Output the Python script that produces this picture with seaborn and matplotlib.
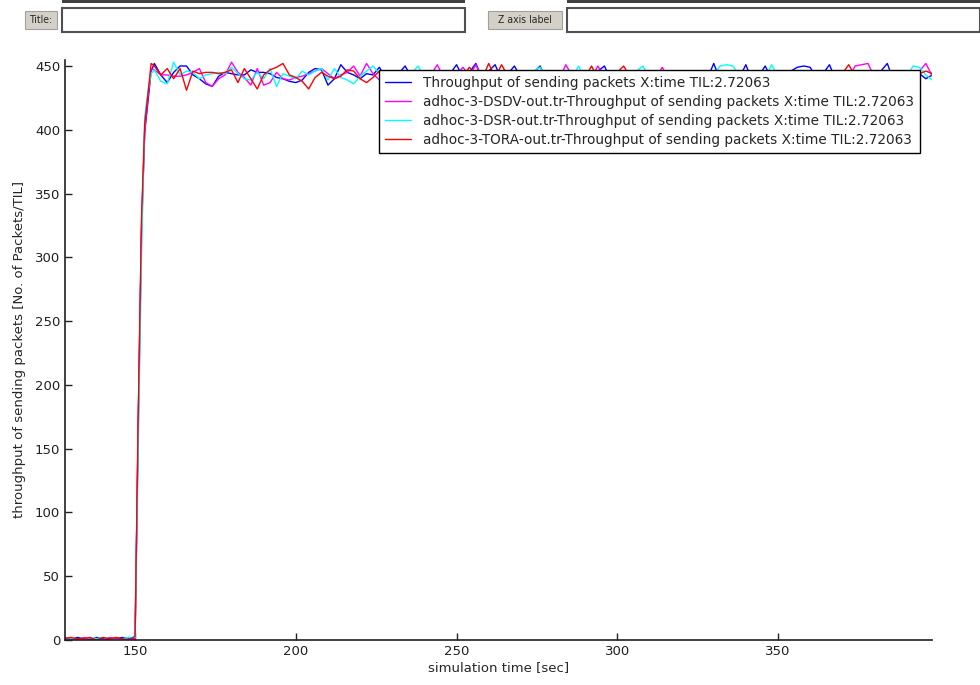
import matplotlib
matplotlib.use("Agg")
import matplotlib.pyplot as plt
from matplotlib.patches import Rectangle
import numpy as np
import pandas as pd
import seaborn as sns

# time axis: 2 s steps, 1 s steps around the start-up ramp
time = [*range(128, 150, 2), 150, 151, 152, 153, 154, 155, *range(156, 399, 2)]

blue = [1, 0, 2, 1, 0, 2, 1, 0, 1, 2, 1,
        1, 170, 320, 398, 422, 446,
        452, 443, 437, 445, 450, 450, 443, 440, 436, 434, 442, 445, 444, 443, 443, 447, 445,
        445, 444, 441, 440, 438, 437, 439, 445, 448, 447, 435, 440, 451, 445, 443, 440, 444,
        443, 449, 440, 437, 444, 450, 441, 436, 442, 445,
        438, 442, 444, 451, 441, 445, 452, 440, 446, 451,
        439, 444, 450, 441, 437, 445, 450, 438, 442, 444,
        436, 441, 445, 440, 443, 446, 450, 439, 437, 443,
        445, 440, 436, 442, 446, 441, 438, 444, 442, 437,
        441, 445, 440, 452, 439, 443, 446, 441, 451, 438,
        442, 450, 440, 436, 443, 446, 449, 450, 449, 440,
        444, 451, 439, 442, 445, 437, 441, 444, 440, 446,
        452, 438, 443, 441, 437, 444, 440, 443]

magenta = [2, 1, 0, 2, 1, 1, 0, 2, 1, 0, 2,
           0, 175, 325, 400, 425, 448,
           447, 443, 443, 442, 442, 443, 445, 448, 437, 434, 440, 443, 453, 445, 441, 435, 448,
           435, 437, 445, 440, 439, 441, 442, 444, 446, 448, 444, 440, 443, 445, 450, 442, 452,
           444, 439, 443, 446, 440, 437, 442, 445, 440, 443,
           451, 441, 437, 443, 449, 442, 451, 440, 436, 443,
           446, 440, 437, 443, 446, 441, 438, 444, 446, 440,
           451, 442, 438, 444, 441, 450, 440, 436, 442, 445,
           440, 437, 443, 446, 441, 449, 439, 436, 442, 446,
           441, 437, 444, 446, 440, 437, 443, 446, 441, 438,
           444, 446, 440, 436, 442, 445, 441, 438, 443, 446,
           440, 437, 443, 446, 441, 450, 451, 452, 441, 438,
           444, 446, 440, 437, 443, 446, 452, 442]

cyan = [0, 1, 1, 0, 2, 1, 2, 1, 0, 1, 2,
        2, 150, 300, 410, 430, 444,
        447, 438, 436, 453, 443, 446, 445, 440, 443, 444, 445, 444, 449, 444, 440, 439, 445,
        440, 448, 434, 444, 442, 440, 446, 443, 446, 448, 439, 448, 441, 439, 436, 442, 446,
        450, 444, 438, 443, 446, 440, 444, 450, 441, 437,
        443, 446, 440, 436, 442, 445, 439, 443, 446, 440,
        437, 442, 445, 439, 444, 446, 449, 440, 436, 442,
        445, 441, 450, 439, 437, 443, 446, 441, 444, 438,
        442, 446, 450, 440, 437, 443, 445, 440, 438, 444,
        446, 441, 437, 443, 450, 451, 450, 442, 438, 444,
        446, 440, 451, 442, 437, 443, 446, 440, 437, 443,
        445, 440, 436, 442, 446, 441, 438, 443, 446, 440,
        437, 443, 446, 441, 450, 449, 443, 439]

red = [1, 2, 1, 1, 2, 0, 2, 1, 2, 1, 0,
       3, 180, 330, 405, 428, 452,
       450, 443, 448, 440, 448, 431, 446, 444, 445, 445, 444, 445, 447, 437, 448, 440, 432,
       443, 447, 449, 452, 443, 441, 438, 432, 441, 445, 442, 440, 442, 447, 446, 440, 437,
       441, 446, 443, 438, 442, 445, 440, 437, 443, 446,
       441, 438, 444, 446, 442, 449, 443, 440, 452, 441,
       451, 442, 438, 444, 446, 440, 437, 443, 445, 440,
       437, 443, 446, 441, 450, 440, 437, 443, 445, 450,
       441, 438, 443, 446, 440, 437, 442, 445, 441, 438,
       444, 446, 441, 437, 443, 445, 440, 437, 443, 446,
       441, 438, 444, 446, 440, 437, 442, 445, 441, 438,
       443, 446, 440, 444, 451, 442, 438, 444, 446, 441,
       437, 443, 446, 441, 438, 444, 446, 444]

labels = [
    "Throughput of sending packets X:time TIL:2.72063",
    "adhoc-3-DSDV-out.tr-Throughput of sending packets X:time TIL:2.72063",
    "adhoc-3-DSR-out.tr-Throughput of sending packets X:time TIL:2.72063",
    "adhoc-3-TORA-out.tr-Throughput of sending packets X:time TIL:2.72063",
]
colors = ["#0000ff", "#ff00ff", "#00ffff", "#ff0000"]

frames = []
for lab, vals in zip(labels, [blue, magenta, cyan, red]):
    frames.append(pd.DataFrame({"time": time, "value": vals, "series": lab}))
df = pd.concat(frames, ignore_index=True)

sns.set_style("ticks")
plt.rcParams["font.family"] = ["DejaVu Sans"]

W, H = 980, 685
fig = plt.figure(figsize=(W / 100, H / 100), dpi=100)


def fx(px):
    return px / W


def fy(py):
    return 1 - py / H


# GUI strip at the top of the screenshot
fig.patches.append(Rectangle((fx(62), fy(3)), fx(403), 3 / H, transform=fig.transFigure,
                             facecolor="#404040", edgecolor="none"))
fig.patches.append(Rectangle((fx(567), fy(3)), fx(413), 3 / H, transform=fig.transFigure,
                             facecolor="#404040", edgecolor="none"))
for x0, x1 in [(62, 465), (567, 980)]:
    fig.patches.append(Rectangle((fx(x0), fy(32)), fx(x1 - x0), 24 / H, transform=fig.transFigure,
                                 facecolor="white", edgecolor="#505050", linewidth=1.5))
for x0, x1, txt in [(25, 57, "Title:"), (488, 562, "Z axis label")]:
    fig.patches.append(Rectangle((fx(x0), fy(29)), fx(x1 - x0), 18 / H, transform=fig.transFigure,
                                 facecolor="#d4d0c8", edgecolor="#a0a0a0", linewidth=0.8))
    fig.text(fx((x0 + x1) / 2), fy(20), txt, ha="center", va="center", fontsize=7.5,
             fontstretch="condensed")

ax = fig.add_axes([fx(65), fy(640), fx(932 - 65), (640 - 60) / H])
sns.lineplot(data=df, x="time", y="value", hue="series", palette=colors,
             estimator=None, sort=False, linewidth=1.0, ax=ax)

ax.set_xlim(128.2, 397.9)
ax.set_ylim(0, 454.7)
ax.set_xticks([150, 200, 250, 300, 350])
ax.set_yticks(range(0, 451, 50))
ax.tick_params(direction="in", length=5, width=1, labelsize=9.5, colors="#202020")
sns.despine(ax=ax)
for s in ["left", "bottom"]:
    ax.spines[s].set_color("#202020")
    ax.spines[s].set_linewidth(1.2)

ax.set_xlabel("simulation time [sec]", fontsize=9.5, labelpad=2)
ax.set_ylabel("throughput of sending packets [No. of Packets/TIL]", fontsize=9.5, labelpad=6)

leg = ax.legend(loc="upper right", bbox_to_anchor=((920 - 65) / 867, (640 - 70) / 580),
                fontsize=9.8, frameon=True, fancybox=False, handlelength=1.9,
                borderaxespad=0, borderpad=0.45, labelspacing=0.36, handletextpad=0.9)
leg.get_frame().set_edgecolor("black")
leg.get_frame().set_linewidth(1.0)
leg.get_frame().set_alpha(1)

fig.savefig("out.png", dpi=100)
